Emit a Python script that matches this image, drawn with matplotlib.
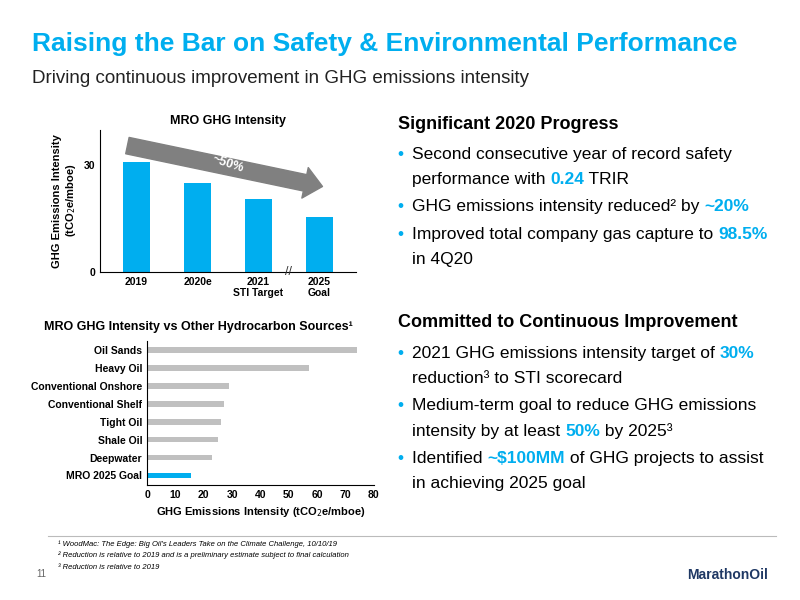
import matplotlib.pyplot as plt

BLUE = "#00AEEF"
GREY = "#C0C0C0"

years = ["2019", "2020e", "2021\nSTI Target", "2025\nGoal"]
intensity = [31.0, 25.0, 20.5, 15.3]

sources = ["Oil Sands", "Heavy Oil", "Conventional Onshore", "Conventional Shelf",
           "Tight Oil", "Shale Oil", "Deepwater", "MRO 2025 Goal"]
source_vals = [74, 57, 29, 27, 26, 25, 23, 15.5]

plt.rcParams["font.family"] = ["Liberation Sans", "DejaVu Sans"]
fig = plt.figure(figsize=(8, 6), dpi=100)

# header
fig.text(0.04, 0.915, "Raising the Bar on Safety & Environmental Performance",
         color=BLUE, fontsize=19, fontweight="bold")
fig.text(0.04, 0.862, "Driving continuous improvement in GHG emissions intensity",
         color="#222222", fontsize=13.5)

# top chart
ax1 = fig.add_axes([0.125, 0.547, 0.32, 0.237])
ax1.bar(range(len(years)), intensity, width=0.45, color=BLUE)
ax1.set_xticks(range(len(years)), years, fontsize=7.5, fontweight="bold")
ax1.set_yticks([0, 30], ["0", "30"], fontsize=7.5, fontweight="bold")
ax1.set_ylim(0, 40)
ax1.set_xlim(-0.6, 3.6)
ax1.tick_params(length=0)
for s in ["top", "right"]:
    ax1.spines[s].set_visible(False)
ax1.set_ylabel("GHG Emissions Intensity\n(tCO$_2$e/mboe)", fontsize=8, fontweight="bold")
ax1.set_title("MRO GHG Intensity", fontsize=9, fontweight="bold", pad=4)
# grey arrow showing the ~50% drop
ax1.annotate("", xy=(3.05, 24.0), xytext=(-0.15, 35.5),
             arrowprops=dict(arrowstyle="simple,head_width=1.4,head_length=0.8,tail_width=0.75",
                             color="#808080", shrinkA=0, shrinkB=0, mutation_scale=16))
ax1.text(1.5, 30.2, "~50%", color="white", fontsize=9, fontweight="bold",
         rotation=-18, ha="center", va="center")
ax1.text(2.5, 0, "//", fontsize=9, ha="center", va="center", color="#333333")

# bottom chart
ax2 = fig.add_axes([0.184, 0.192, 0.283, 0.24])
colors = [GREY] * (len(sources) - 1) + [BLUE]
ax2.barh(range(len(sources)), source_vals, height=0.32, color=colors)
ax2.set_yticks(range(len(sources)), sources, fontsize=7.5, fontweight="bold")
ax2.invert_yaxis()
ax2.set_xlim(0, 80)
ax2.set_xticks(range(0, 81, 10))
ax2.tick_params(labelsize=7.5, length=0)
for lbl in ax2.get_xticklabels():
    lbl.set_fontweight("bold")
for s in ["top", "right"]:
    ax2.spines[s].set_visible(False)
ax2.set_xlabel("GHG Emissions Intensity (tCO$_2$e/mboe)", fontsize=8, fontweight="bold")
fig.text(0.055, 0.45, "MRO GHG Intensity vs Other Hydrocarbon Sources¹",
         fontsize=9, fontweight="bold")

# right text
fig.text(0.497, 0.785, "Significant 2020 Progress", fontsize=13, fontweight="bold")
fig.text(0.497, 0.455, "Committed to Continuous Improvement", fontsize=13, fontweight="bold")

bullets = [
    (0.735, [("Second consecutive year of record safety", "k")], [("performance with ", "k"), ("0.24", BLUE), (" TRIR", "k")]),
    (0.648, [("GHG emissions intensity reduced² by ", "k"), ("~20%", BLUE)], None),
    (0.602, [("Improved total company gas capture to ", "k"), ("98.5%", BLUE)], [("in 4Q20", "k")]),
    (0.403, [("2021 GHG emissions intensity target of ", "k"), ("30%", BLUE)], [("reduction³ to STI scorecard", "k")]),
    (0.316, [("Medium-term goal to reduce GHG emissions", "k")], [("intensity by at least ", "k"), ("50%", BLUE), (" by 2025³", "k")]),
    (0.229, [("Identified ", "k"), ("~$100MM", BLUE), (" of GHG projects to assist", "k")], [("in achieving 2025 goal", "k")]),
]
renderer = fig.canvas.get_renderer()
for y, l1, l2 in bullets:
    fig.text(0.497, y, "•", color=BLUE, fontsize=12.5)
    for yy, parts in [(y, l1), (y - 0.042, l2)]:
        if not parts:
            continue
        x = 0.515
        for txt, c in parts:
            t = fig.text(x, yy, txt.replace("$", r"\$"), color=c, fontsize=12.5,
                         fontweight="bold" if c == BLUE else "normal")
            bb = t.get_window_extent(renderer)
            x += bb.width / fig.bbox.width

# footer
fig.add_artist(plt.Line2D([0.06, 0.97], [0.107, 0.107], color="#bbbbbb", lw=0.8))
fig.text(0.073, 0.09, "¹ WoodMac: The Edge: Big Oil's Leaders Take on the Climate Challenge, 10/10/19",
         fontsize=5.5, style="italic")
fig.text(0.073, 0.071, "² Reduction is relative to 2019 and is a preliminary estimate subject to final calculation",
         fontsize=5.5, style="italic")
fig.text(0.073, 0.052, "³ Reduction is relative to 2019", fontsize=5.5, style="italic")
fig.text(0.045, 0.038, "11", fontsize=7, color="#666666")
fig.text(0.96, 0.035, "MarathonOil", fontsize=10, fontweight="bold", color="#1f3864", ha="right")

fig.savefig("out.png", dpi=100)
